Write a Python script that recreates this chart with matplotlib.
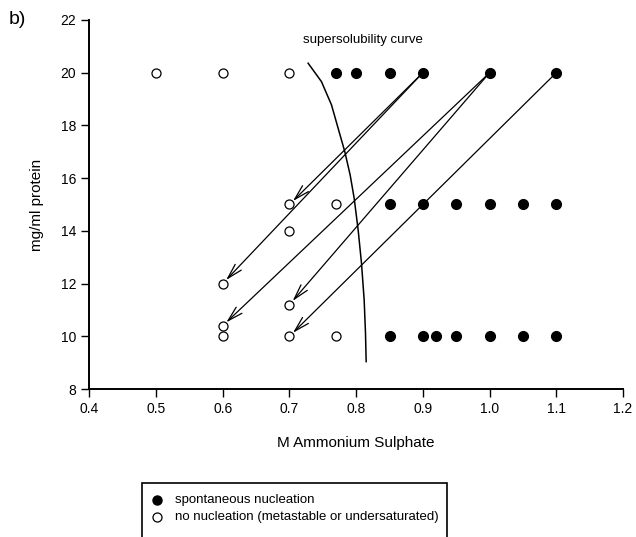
import numpy as np
import matplotlib
matplotlib.use("Agg")
import matplotlib.pyplot as plt
from matplotlib.patches import Rectangle
from matplotlib.lines import Line2D

plt.rcParams["font.family"] = ["Liberation Sans", "DejaVu Sans"]

# spontaneous nucleation (filled)
nuc_x = [0.77, 0.80, 0.85, 0.90, 1.00, 1.10,
         0.85, 0.90, 0.95, 1.00, 1.05, 1.10,
         0.85, 0.90, 0.92, 0.95, 1.00, 1.05, 1.10]
nuc_y = [20, 20, 20, 20, 20, 20,
         15, 15, 15, 15, 15, 15,
         10, 10, 10, 10, 10, 10, 10]

# no nucleation (open)
none_x = [0.50, 0.60, 0.70, 0.70, 0.77, 0.70, 0.60, 0.70, 0.60, 0.60, 0.70, 0.77]
none_y = [20, 20, 20, 15, 15, 14, 12, 11.2, 10.4, 10, 10, 10]

# transfer arrows (start -> end)
arr_start = [(0.90, 20), (0.90, 20), (1.00, 20), (1.00, 20), (1.10, 20)]
arr_end = [(0.70, 15), (0.60, 12), (0.60, 10.4), (0.70, 11.2), (0.70, 10)]

# supersolubility curve
curve_x = [0.728, 0.748, 0.763, 0.773, 0.783, 0.791, 0.797, 0.803, 0.808, 0.812, 0.814, 0.815]
curve_y = [20.36, 19.66, 18.78, 17.89, 17.00, 16.12, 15.24, 14.03, 12.77, 11.38, 10.11, 9.04]

fig = plt.figure(figsize=(6.36, 5.37), dpi=100)
ax = fig.add_axes([0.1404, 0.2756, 0.8392, 0.6872])

for (x0, y0), (x1, y1) in zip(arr_start, arr_end):
    ax.annotate(
        "", xy=(x1, y1), xytext=(x0, y0),
        arrowprops=dict(arrowstyle="->,head_length=1.1,head_width=0.3",
                        color="k", lw=0.9, shrinkA=0, shrinkB=3.5),
        zorder=2,
    )

ax.plot(curve_x, curve_y, color="k", lw=1.1, zorder=2)

ax.plot(nuc_x, nuc_y, "o", color="k", ms=7, ls="none", zorder=3)
ax.plot(none_x, none_y, "o", mfc="white", mec="k", mew=0.9, ms=6.5, ls="none", zorder=3)

ax.text(0.72, 21.25, "supersolubility curve", fontsize=9.5, va="center", ha="left")

ax.set_xlim(0.4, 1.2)
ax.set_ylim(8, 22)
ax.set_xticks(np.arange(0.4, 1.21, 0.1))
ax.set_xticklabels(["0.4", "0.5", "0.6", "0.7", "0.8", "0.9", "1.0", "1.1", "1.2"])
ax.set_yticks(np.arange(8, 23, 2))
ax.tick_params(direction="out", length=6, width=1, labelsize=10)
ax.spines["top"].set_visible(False)
ax.spines["right"].set_visible(False)
ax.spines["left"].set_linewidth(1.4)
ax.spines["bottom"].set_linewidth(1.4)
ax.set_xlabel("M Ammonium Sulphate", fontsize=11, labelpad=14)
ax.set_ylabel("mg/ml protein", fontsize=11, labelpad=12)

fig.text(9 / 636, 1 - 20 / 537, "b)", fontsize=14, va="center", ha="left")

# legend box, cut at the bottom edge
fig.patches.append(Rectangle((142 / 636, -0.05), (447 - 142) / 636, 0.05 + 54 / 537,
                             transform=fig.transFigure, fill=False, ec="k", lw=1.2))
fig.add_artist(Line2D([157 / 636], [1 - 500 / 537], marker="o", color="k", ms=6.5,
                      transform=fig.transFigure))
fig.add_artist(Line2D([157 / 636], [1 - 517 / 537], marker="o", mfc="white", mec="k",
                      mew=0.9, ms=6.5, transform=fig.transFigure))
fig.text(175 / 636, 1 - 500 / 537, "spontaneous nucleation", fontsize=9.5, va="center")
fig.text(175 / 636, 1 - 517 / 537, "no nucleation (metastable or undersaturated)",
         fontsize=9.5, va="center")

fig.savefig("out.png", dpi=100)
